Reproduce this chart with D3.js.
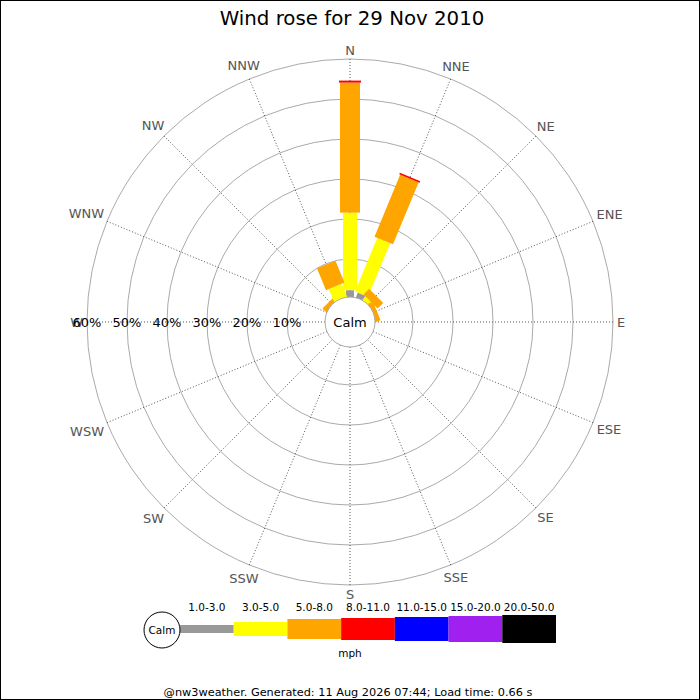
<!DOCTYPE html>
<html lang="en">
<head>
<meta charset="utf-8">
<title>Wind rose</title>
<script src="https://cdn.jsdelivr.net/npm/d3@7"></script>
<style>
body { margin: 0; background: #fff; }
text { font-family: "DejaVu Sans", sans-serif; }
.grid { fill: none; stroke: #aaa; stroke-width: 1px; }
.spoke { stroke: #555; stroke-width: 1px; stroke-dasharray: 1,2; }
.dir { fill: #555; font-size: 13px; }
.ring-label { fill: #000; font-size: 13px; }
</style>
</head>
<body>
<script>
// directions, clockwise from north
var directions = ["N","NNE","NE","ENE","E","ESE","SE","SSE","S","SSW","SW","WSW","W","WNW","NW","NNW"];

// speed ranges (mph) and their colours
var speedBins = ["1.0-3.0","3.0-5.0","5.0-8.0","8.0-11.0","11.0-15.0","15.0-20.0","20.0-50.0"];
var binColors = ["#999999","#ffff00","#ffa500","#ff0000","#0000ff","#a020f0","#000000"];

// percent of time per direction, one array per speed range
var pct1to3   = [2.2, 1.8, 0,   0,   0,0,0,0,0,0,0,0,0,0, 0,   0];
var pct3to5   = [19.4,14.5,1.5, 0,   0,0,0,0,0,0,0,0,0,0, 0,   3.9];
var pct5to8   = [32.5,16.8,2.0, 1.5, 0,0,0,0,0,0,0,0,0,0, 1.5, 5.9];
var pct8to11  = [0.5, 0.4, 0,   0,   0,0,0,0,0,0,0,0,0,0, 0,   0];
var pct11to15 = [0,0,0,0,0,0,0,0,0,0,0,0,0,0,0,0];
var pct15to20 = [0,0,0,0,0,0,0,0,0,0,0,0,0,0,0,0];
var pct20to50 = [0,0,0,0,0,0,0,0,0,0,0,0,0,0,0,0];

var ringTicks = [10,20,30,40,50,60];

var series = [pct1to3, pct3to5, pct5to8, pct8to11, pct11to15, pct15to20, pct20to50];
var barWidth = [8, 14, 20, 22, 24, 26, 28];

var w = 700, h = 700;
var cx = 350, cy = 322;
var calmR = 25;

var svg = d3.select("body").append("svg")
    .attr("width", w)
    .attr("height", h);

svg.append("rect")
    .attr("x", 0.5).attr("y", 0.5)
    .attr("width", w - 1).attr("height", h - 1)
    .attr("fill", "#fff").attr("stroke", "#000");

svg.append("text")
    .attr("x", w/2 + 2).attr("y", 25)
    .attr("text-anchor", "middle")
    .style("font-size", "19.8px")
    .text("Wind rose for 29 Nov 2010");

var r = d3.scaleLinear().domain([0, 60]).range([23, 263]);

var rose = svg.append("g").attr("transform", "translate(" + cx + "," + cy + ")");

// rings
rose.selectAll("circle.grid")
    .data(ringTicks)
    .enter().append("circle")
    .attr("class", "grid")
    .attr("r", function(d){ return r(d); });

// spokes
var ang = function(i){ return i * 22.5 * Math.PI / 180; };
rose.selectAll("line.spoke")
    .data(directions)
    .enter().append("line")
    .attr("class", "spoke")
    .attr("x1", function(d,i){ return calmR * Math.sin(ang(i)); })
    .attr("y1", function(d,i){ return -calmR * Math.cos(ang(i)); })
    .attr("x2", function(d,i){ return r(60) * Math.sin(ang(i)); })
    .attr("y2", function(d,i){ return -r(60) * Math.cos(ang(i)); });

// compass labels, nearest edge just outside outer ring
rose.selectAll("text.dir")
    .data(directions)
    .enter().append("text")
    .attr("class", "dir")
    .attr("text-anchor", "middle")
    .attr("dy", "0.36em")
    .text(function(d){ return d; })
    .each(function(d,i){
        var tw = this.getComputedTextLength();
        var s = Math.sin(ang(i)), c = Math.cos(ang(i));
        var dist = r(60) + 4 + Math.abs(s) * tw/2 + Math.abs(c) * 5;
        d3.select(this).attr("x", dist * s).attr("y", -dist * c);
    });

// stacked bars
directions.forEach(function(dir, i){
    var g = rose.append("g").attr("transform", "rotate(" + (i * 22.5) + ")");
    var cum = 0;
    series.forEach(function(vals, k){
        var v = vals[i];
        if (v > 0) {
            g.append("rect")
                .attr("x", -barWidth[k]/2)
                .attr("y", -r(cum + v))
                .attr("width", barWidth[k])
                .attr("height", r(cum + v) - r(cum))
                .attr("fill", binColors[k]);
        }
        cum += v;
    });
});

// calm circle
rose.append("circle")
    .attr("r", calmR)
    .attr("fill", "#fff")
    .attr("stroke", "#aaa");
rose.append("text")
    .attr("text-anchor", "middle")
    .attr("dy", "0.36em")
    .style("font-size", "13px")
    .text("Calm");

// ring labels on the west spoke
rose.selectAll("text.ring-label")
    .data(ringTicks)
    .enter().append("text")
    .attr("class", "ring-label")
    .attr("x", function(d){ return -r(d); })
    .attr("text-anchor", "middle")
    .attr("dy", "0.36em")
    .text(function(d){ return d + "%"; });

// legend
var lx = d3.scaleBand().domain(speedBins).range([180, 556]);
var ly = 629;
var legend = svg.append("g");

legend.selectAll("rect")
    .data(speedBins)
    .enter().append("rect")
    .attr("x", function(d){ return lx(d); })
    .attr("y", function(d,k){ return ly - barWidth[k]/2; })
    .attr("width", lx.bandwidth())
    .attr("height", function(d,k){ return barWidth[k]; })
    .attr("fill", function(d,k){ return binColors[k]; });

legend.selectAll("text.bin")
    .data(speedBins)
    .enter().append("text")
    .attr("class", "bin")
    .attr("x", function(d){ return lx(d) + lx.bandwidth()/2; })
    .attr("y", 611)
    .attr("text-anchor", "middle")
    .style("font-size", "10.5px")
    .text(function(d){ return d; });

legend.append("circle")
    .attr("cx", 162).attr("cy", 630).attr("r", 18)
    .attr("fill", "#fff").attr("stroke", "#000");
legend.append("text")
    .attr("x", 162).attr("y", 630)
    .attr("dy", "0.36em")
    .attr("text-anchor", "middle")
    .style("font-size", "10.5px")
    .text("Calm");

legend.append("text")
    .attr("x", 350).attr("y", 657)
    .attr("text-anchor", "middle")
    .style("font-size", "10.5px")
    .text("mph");

svg.append("text")
    .attr("x", 348).attr("y", 696)
    .attr("text-anchor", "middle")
    .style("font-size", "11.3px")
    .text("@nw3weather. Generated: 11 Aug 2026 07:44; Load time: 0.66 s");
</script>
</body>
</html>
